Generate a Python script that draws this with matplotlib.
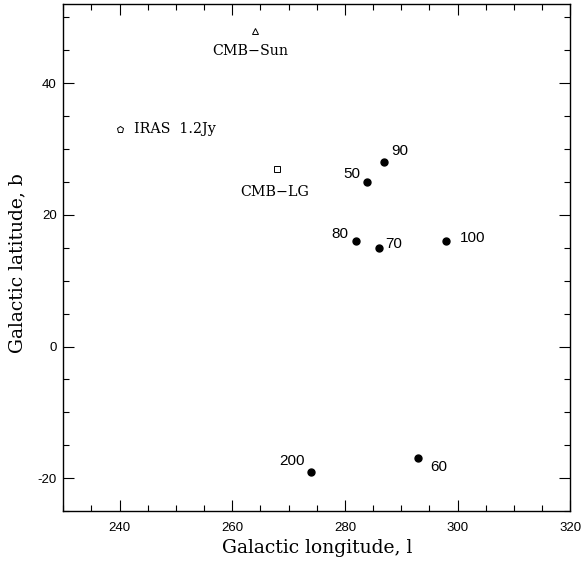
import matplotlib
matplotlib.use("Agg")
import matplotlib.pyplot as plt
from matplotlib.ticker import MultipleLocator

plt.rcParams['axes.unicode_minus'] = False

# dipole directions from the reconstructed velocity field, labelled by depth
depths = ["50", "60", "70", "80", "90", "100", "200"]
depth_l = [284, 293, 286, 282, 287, 298, 274]
depth_b = [25, -17, 15, 16, 28, 16, -19]
# label offsets (points) so the numbers sit clear of the dots
depth_offsets = [(-11, 6), (15, -6), (11, 3), (-11.5, 5.5), (11, 8), (19, 2.5), (-14, 7.5)]

# reference directions
ref_names = ["CMB\u2212Sun", "IRAS  1.2Jy", "CMB\u2212LG"]
ref_l = [264, 240, 268]
ref_b = [48, 33, 27]
ref_markers = ["^", "p", "s"]

label_font = "DejaVu Serif"

fig = plt.figure(figsize=(5.82, 5.62), dpi=100)
ax = fig.add_axes([0.1088, 0.0907, 0.871, 0.9016])

ax.plot(depth_l, depth_b, "o", color="black", markersize=5, linestyle="none")
for txt, x, y, off in zip(depths, depth_l, depth_b, depth_offsets):
    ax.annotate(txt, (x, y), xytext=off, textcoords="offset points",
                ha="center", va="center", fontsize=11, family="Liberation Sans")

for name, x, y, m in zip(ref_names, ref_l, ref_b, ref_markers):
    ax.plot([x], [y], marker=m, markerfacecolor="white", markeredgecolor="black",
            markeredgewidth=0.7, markersize=5 if m != "s" else 4.3, linestyle="none")

ax.annotate(ref_names[0], (ref_l[0], ref_b[0]), xytext=(-3.4, -14.4), textcoords="offset points",
            ha="center", va="center", fontsize=10.3, family=label_font)
ax.annotate(ref_names[1], (ref_l[1], ref_b[1]), xytext=(10.5, 0), textcoords="offset points",
            ha="left", va="center", fontsize=10.3, family=label_font)
ax.annotate(ref_names[2], (ref_l[2], ref_b[2]), xytext=(-2, -16.8), textcoords="offset points",
            ha="center", va="center", fontsize=10.3, family=label_font)

ax.set_xlim(230, 320)
ax.set_ylim(-25, 52)
ax.xaxis.set_major_locator(MultipleLocator(20))
ax.xaxis.set_minor_locator(MultipleLocator(5))
ax.yaxis.set_major_locator(MultipleLocator(20))
ax.yaxis.set_minor_locator(MultipleLocator(5))
ax.tick_params(which="both", direction="in", top=True, right=True, width=0.8, color="black")
ax.tick_params(which="major", length=8, labelsize=9.5)
ax.tick_params(axis="x", which="major", pad=8)
ax.tick_params(axis="y", which="major", pad=4.8)
ax.tick_params(which="minor", length=4)
for lab in ax.get_xticklabels() + ax.get_yticklabels():
    lab.set_family("Liberation Sans")
for sp in ax.spines.values():
    sp.set_linewidth(1.0)

ax.set_xlabel("Galactic longitude, l", fontsize=13.5, family=label_font)
ax.set_ylabel("Galactic latitude, b", fontsize=13.5, family=label_font)
ax.xaxis.label.set_va("center")
ax.yaxis.label.set_va("center")
ax.xaxis.set_label_coords(0.5, -0.073)
ax.yaxis.set_label_coords(-0.091, 0.49)

fig.savefig("out.png", dpi=100)
